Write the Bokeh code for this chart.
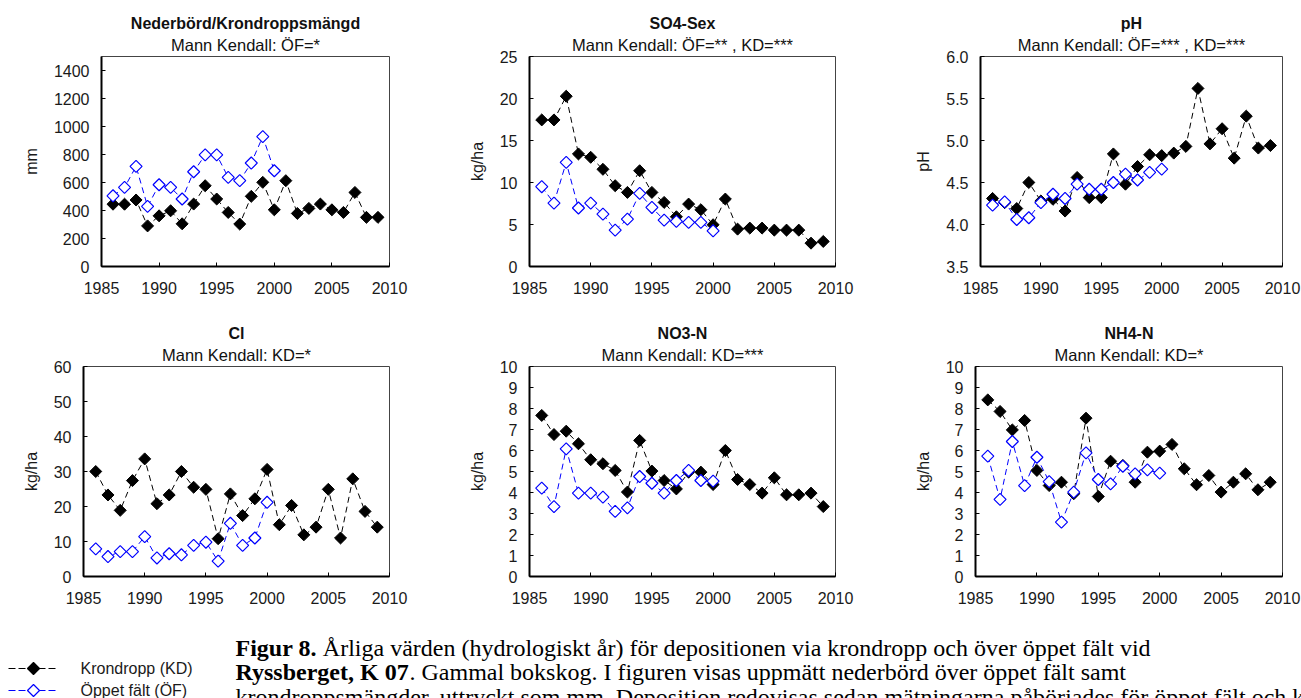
import numpy as np
from bokeh.plotting import figure
from bokeh.layouts import column, row
from bokeh.models import Range1d, FixedTicker, Title, PrintfTickFormatter
from bokeh.embed import file_html
from bokeh.resources import INLINE
from bokeh.core.properties import value

# ---------------- data ----------------
years_kd = list(range(1986, 2010))
years_of = list(range(1986, 2001))
x_ticks = [1985, 1990, 1995, 2000, 2005, 2010]

precip_kd = [445, 445, 475, 290, 362, 398, 305, 446, 577, 482, 386, 303,
             501, 601, 405, 613, 379, 415, 446, 405, 386, 529, 351, 351]
precip_of = [505, 565, 715, 429, 584, 565, 482, 677, 797, 797, 637, 613, 739, 928, 684]

so4_kd = [17.45, 17.45, 20.27, 13.4, 13.0, 11.57, 9.62, 8.82, 11.4, 8.82, 7.63, 5.92,
          7.43, 6.76, 4.97, 8.03, 4.45, 4.57, 4.57, 4.33, 4.33, 4.33, 2.78, 2.98]
so4_of = [9.5, 7.55, 12.4, 6.96, 7.55, 6.24, 4.33, 5.64, 8.7, 7.03, 5.52, 5.37, 5.25, 5.25, 4.25]

ph_kd = [4.31, 4.26, 4.19, 4.50, 4.28, 4.30, 4.16, 4.56, 4.32, 4.32, 4.84, 4.48,
         4.69, 4.83, 4.82, 4.85, 4.93, 5.62, 4.96, 5.14, 4.79, 5.29, 4.91, 4.94]
ph_of = [4.23, 4.27, 4.06, 4.08, 4.26, 4.36, 4.31, 4.48, 4.42, 4.42, 4.50, 4.60, 4.53, 4.62, 4.66]

cl_kd = [30.0, 23.3, 18.9, 27.4, 33.6, 20.8, 23.3, 30.0, 25.5, 24.9, 10.8, 23.6,
         17.4, 22.2, 30.6, 14.8, 20.3, 11.9, 14.1, 24.9, 11.0, 27.9, 18.6, 14.1]
cl_of = [7.9, 5.7, 7.1, 7.1, 11.4, 5.3, 6.5, 6.2, 8.9, 9.8, 4.4, 15.2, 8.9, 11.0, 21.2]

no3_kd = [7.67, 6.76, 6.92, 6.32, 5.56, 5.37, 5.05, 4.02, 6.48, 5.02, 4.57, 4.17,
          4.97, 4.97, 4.38, 6.0, 4.62, 4.38, 3.97, 4.70, 3.89, 3.89, 3.97, 3.33]
no3_of = [4.21, 3.33, 6.08, 3.97, 3.97, 3.78, 3.10, 3.27, 4.76, 4.44, 3.97, 4.57, 5.05, 4.57, 4.54]

nh4_kd = [8.41, 7.86, 6.98, 7.43, 5.05, 4.33, 4.49, 3.94, 7.54, 3.81, 5.49, 5.29,
          4.49, 5.92, 5.97, 6.29, 5.13, 4.37, 4.81, 4.02, 4.49, 4.89, 4.13, 4.49]
nh4_of = [5.73, 3.67, 6.43, 4.33, 5.68, 4.52, 2.59, 4.02, 5.89, 4.62, 4.41, 5.25, 4.89, 5.08, 4.92]

legend_labels = ["Krondropp (KD)", "Öppet fält (ÖF)"]

caption_bold = ["Figur 8.", "Ryssberget, K 07", ""]
caption_rest = [
    "Årliga värden (hydrologiskt år) för depositionen via krondropp och över öppet fält vid",
    ". Gammal bokskog. I figuren visas uppmätt nederbörd över öppet fält samt",
    "krondroppsmängder, uttryckt som mm. Deposition redovisas sedan mätningarna påbörjades för öppet fält och krondropp.",
]

SANS = "Liberation Sans"
SERIF = "Liberation Serif"


def panel(name, sub, ylabel, kd, of, ymin, ymax, yticks, width, height,
          bl, br, bt, bb, fmt=None):
    p = figure(width=width, height=height, title=None,
               x_range=Range1d(1985, 2010), y_range=Range1d(ymin, ymax),
               output_backend="svg", toolbar_location=None,
               min_border_left=bl, min_border_right=br,
               min_border_top=bt, min_border_bottom=bb)
    p.add_layout(Title(text=sub, align="center", text_font=SANS,
                       text_font_size="16.5px", text_font_style="normal",
                       text_color="#111111", standoff=5), "above")
    p.add_layout(Title(text=name, align="center", text_font=SANS,
                       text_font_size="16px", text_font_style="bold",
                       text_color="#111111", standoff=0), "above")
    p.xgrid.visible = False
    p.ygrid.visible = False
    p.outline_line_color = "#444444"
    p.outline_line_width = 1
    for ax in (p.xaxis[0], p.yaxis[0]):
        ax.axis_line_width = 2
        ax.axis_line_color = "black"
        ax.major_tick_in = 4
        ax.major_tick_out = 0
        ax.minor_tick_in = 0
        ax.minor_tick_out = 0
        ax.major_tick_line_color = "black"
        ax.major_label_text_font = SANS
        ax.major_label_text_font_size = "16px"
        ax.major_label_text_color = "#1a1a1a"
    p.xaxis.ticker = FixedTicker(ticks=x_ticks)
    p.yaxis.ticker = FixedTicker(ticks=yticks)
    p.xaxis.major_label_standoff = 15
    p.yaxis.major_label_standoff = 12
    if fmt:
        p.yaxis.formatter = PrintfTickFormatter(format=fmt)
    p.yaxis.axis_label = ylabel
    p.yaxis.axis_label_text_font = SANS
    p.yaxis.axis_label_text_font_size = "16px"
    p.yaxis.axis_label_text_font_style = "normal"
    p.yaxis.axis_label_text_color = "#1a1a1a"
    p.yaxis.axis_label_standoff = 11

    p.line(years_kd, kd, line_color="black", line_dash="6 4", line_width=1)
    p.scatter(years_kd, kd, marker="square", size=8.5, angle=np.pi / 4,
              fill_color="black", line_color="black", line_width=1)
    if of is not None:
        p.line(years_of, of, line_color="#0000ff", line_dash="6 4", line_width=1)
        p.scatter(years_of, of, marker="square", size=8.5, angle=np.pi / 4,
                  fill_color="white", line_color="#0000ff", line_width=1.2)
    return p


p1 = panel("Nederbörd/Krondroppsmängd", "Mann Kendall: ÖF=*", "mm",
           precip_kd, precip_of, 0, 1500, list(range(0, 1401, 200)),
           430, 300, 101, 41, 56, 34)
p2 = panel("SO4-Sex", "Mann Kendall: ÖF=** , KD=***", "kg/ha",
           so4_kd, so4_of, 0, 25, [0, 5, 10, 15, 20, 25],
           430, 300, 99, 25, 56, 34)
p3 = panel("pH", "Mann Kendall: ÖF=*** , KD=***", "pH",
           ph_kd, ph_of, 3.5, 6.0, [3.5, 4.0, 4.5, 5.0, 5.5, 6.0],
           441, 300, 120, 19, 56, 34, fmt="%.1f")
p4 = panel("Cl", "Mann Kendall: KD=*", "kg/ha",
           cl_kd, cl_of, 0, 60, [0, 10, 20, 30, 40, 50, 60],
           430, 315, 83, 41, 66, 39)
p5 = panel("NO3-N", "Mann Kendall: KD=***", "kg/ha",
           no3_kd, no3_of, 0, 10, list(range(0, 11)),
           430, 315, 99, 25, 66, 39)
p6 = panel("NH4-N", "Mann Kendall: KD=*", "kg/ha",
           nh4_kd, nh4_of, 0, 10, list(range(0, 11)),
           441, 315, 115, 19, 66, 39)

# ---------------- bottom strip: legend + caption ----------------
pb = figure(width=1301, height=83, title=None,
            x_range=Range1d(0, 1301), y_range=Range1d(698, 615),
            x_axis_type=None, y_axis_type=None,
            output_backend="svg", toolbar_location=None,
            min_border_left=0, min_border_right=0,
            min_border_top=0, min_border_bottom=0)
pb.outline_line_color = None
pb.xgrid.visible = False
pb.ygrid.visible = False

leg_y = [668, 690]
leg_colors = ["black", "#0000ff"]
leg_fill = ["black", "white"]
for yy, c, f, lab in zip(leg_y, leg_colors, leg_fill, legend_labels):
    pb.line([8, 58], [yy, yy], line_color=c, line_dash="7 3", line_width=1)
    pb.scatter([33], [yy], marker="square", size=8.5, angle=np.pi / 4,
               fill_color=f, line_color=c, line_width=1.2)
    pb.text([80], [yy], text=[lab], text_baseline="middle", text_align="left",
            text_font=value(SANS), text_font_size=value("16px"), text_color="#1a1a1a")

CAP_FS = 24
cap_x0 = 235
cap_base = [647, 671, 696]
bold_em = [3.389 + 0.25, 7.249, 0.0]
for b, r, yy, em in zip(caption_bold, caption_rest, cap_base, bold_em):
    if b:
        pb.text([cap_x0], [yy], text=[b], text_baseline="alphabetic", text_align="left",
                text_font=value(SERIF), text_font_size=value(f"{CAP_FS}px"),
                text_font_style="bold", text_color="black")
    pb.text([cap_x0 + em * CAP_FS], [yy], text=[r], text_baseline="alphabetic",
            text_align="left", text_font=value(SERIF),
            text_font_size=value(f"{CAP_FS}px"), text_color="black")

layout = column(row(p1, p2, p3), row(p4, p5, p6), pb)

open("out.html", "w").write(file_html(layout, INLINE))
